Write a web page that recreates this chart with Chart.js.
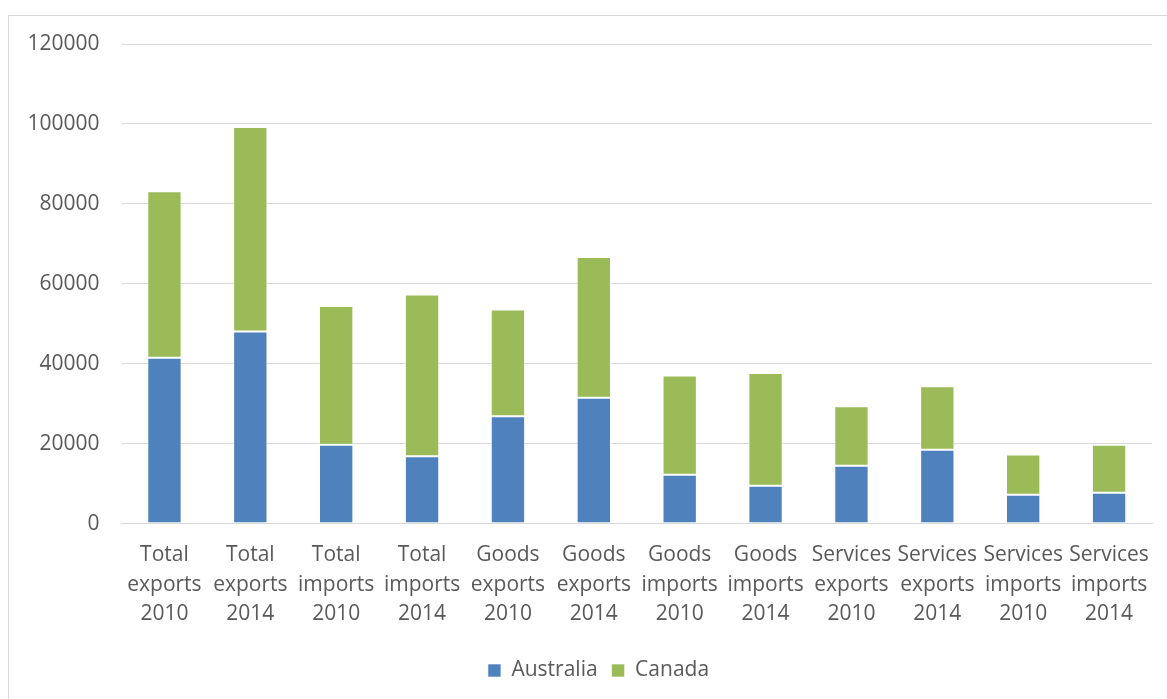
<!DOCTYPE html>
<html>
<head>
<meta charset="utf-8">
<script src="https://cdn.jsdelivr.net/npm/chart.js@4.4.1/dist/chart.umd.min.js"></script>
<style>
  html, body { margin: 0; padding: 0; background: #ffffff; }
  #wrap { position: absolute; left: 0; top: 0; width: 1167px; height: 699px; }
</style>
</head>
<body>
<div id="wrap"><canvas id="chart" width="1167" height="699"></canvas></div>
<script>
// Trade flows by category and year
const categories = [
  ["Total", "exports", "2010"], ["Total", "exports", "2014"],
  ["Total", "imports", "2010"], ["Total", "imports", "2014"],
  ["Goods", "exports", "2010"], ["Goods", "exports", "2014"],
  ["Goods", "imports", "2010"], ["Goods", "imports", "2014"],
  ["Services", "exports", "2010"], ["Services", "exports", "2014"],
  ["Services", "imports", "2010"], ["Services", "imports", "2014"]
];
const australia = [41500, 48100, 19750, 16900, 26900, 31500, 12250, 9500, 14500, 18500, 7250, 7750];
const canada    = [41700, 51150, 34750, 40450, 26700, 35250, 24850, 28200, 14900, 15900, 10100, 12000];
const yTicks = [0, 20000, 40000, 60000, 80000, 100000, 120000];

const textColor = '#595959';
const fontFamily = '"Open Sans", "Noto Sans", sans-serif';

// White background plus the thin outer frame
const frame = {
  id: 'frame',
  beforeDraw(chart) {
    const ctx = chart.ctx;
    ctx.save();
    ctx.fillStyle = '#ffffff';
    ctx.fillRect(0, 0, chart.width, chart.height);
    ctx.strokeStyle = '#d9d9d9';
    ctx.lineWidth = 1;
    ctx.strokeRect(8.5, 15.5, chart.width + 20, chart.height + 20);
    ctx.restore();
  }
};

// Nudge the legend row slightly right of the canvas centre
const legendShift = {
  id: 'legendShift',
  afterLayout(chart) {
    const lg = chart.legend;
    if (lg) { lg.left += 9; lg.right += 9; }
  }
};

new Chart(document.getElementById('chart'), {
  type: 'bar',
  data: {
    labels: categories,
    datasets: [
      { label: 'Australia', data: australia, backgroundColor: '#4f81bd',
        borderColor: 'rgba(255,255,255,0.6)', borderWidth: 1, borderSkipped: false },
      { label: 'Canada', data: canada, backgroundColor: '#9bbb59',
        borderColor: 'rgba(255,255,255,0.6)', borderWidth: 1, borderSkipped: false }
    ]
  },
  options: {
    responsive: false,
    animation: false,
    devicePixelRatio: 1,
    layout: { padding: { left: 27, right: 15, top: 44, bottom: 8 } },
    datasets: { bar: { categoryPercentage: 0.4, barPercentage: 1.0 } },
    plugins: {
      legend: {
        position: 'bottom',
        labels: {
          color: textColor,
          font: { family: fontFamily, size: 21 },
          boxWidth: 13, boxHeight: 13, padding: 14
        }
      },
      tooltip: { enabled: false }
    },
    scales: {
      x: {
        stacked: true,
        grid: { display: false, drawTicks: false },
        border: { display: true, color: '#d9d9d9', width: 1 },
        ticks: {
          color: textColor, font: { family: fontFamily, size: 21, lineHeight: 1.4 },
          padding: 17, maxRotation: 0, autoSkip: false
        }
      },
      y: {
        stacked: true,
        min: 0, max: 120000,
        afterBuildTicks(axis) { axis.ticks = yTicks.map(v => ({ value: v })); },
        afterFit(axis) { axis.width = 94.5; },
        grid: { color: '#d9d9d9', lineWidth: 1, drawTicks: false },
        border: { display: false },
        ticks: {
          color: textColor, font: { family: fontFamily, size: 21 },
          padding: 22, callback: v => String(v)
        }
      }
    }
  },
  plugins: [frame, legendShift]
});
</script>
</body>
</html>
